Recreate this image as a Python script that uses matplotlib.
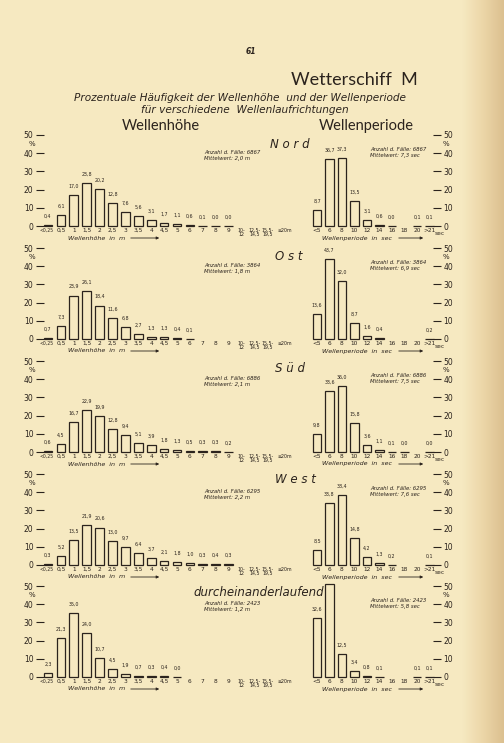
import numpy as np
import matplotlib
matplotlib.use("Agg")
import matplotlib.pyplot as plt
from matplotlib.transforms import blended_transform_factory, ScaledTranslation
from matplotlib.colors import LinearSegmentedColormap

W, H = 504, 743
nan = np.nan

# ---------------- data ----------------
height_classes = ["<0,25", "0,5", "1", "1,5", "2", "2,5", "3", "3,5", "4", "4,5",
                  "5", "6", "7", "8", "9", "10-\n12", "12,5-\n14,5", "15,5-\n19,5", "≥20m"]
period_classes = ["<5", "6", "8", "10", "12", "14", "16", "18", "20", ">21"]

nord_height = [0.4, 6.1, 17.0, 23.8, 20.2, 12.8, 7.6, 5.6, 3.1, 1.7, 1.1, 0.6, 0.1, 0.0, 0.0, nan, nan, nan, nan]
ost_height = [0.7, 7.3, 23.9, 26.1, 18.4, 11.6, 6.8, 2.7, 1.3, 1.3, 0.4, 0.1, nan, nan, nan, nan, nan, nan, nan]
sued_height = [0.6, 4.5, 16.7, 22.9, 19.9, 12.8, 9.4, 5.1, 3.9, 1.8, 1.3, 0.5, 0.3, 0.3, 0.2, nan, nan, nan, nan]
west_height = [0.3, 5.2, 13.5, 21.9, 20.6, 13.0, 9.7, 6.4, 3.7, 2.1, 1.8, 1.0, 0.3, 0.4, 0.3, nan, nan, nan, nan]
durch_height = [2.3, 21.3, 35.0, 24.0, 10.7, 4.5, 1.9, 0.7, 0.3, 0.4, 0.0, nan, nan, nan, nan, nan, nan, nan, nan]

nord_period = [8.7, 36.7, 37.3, 13.5, 3.1, 0.6, 0.0, nan, 0.1, 0.1]
ost_period = [13.6, 43.7, 32.0, 8.7, 1.6, 0.4, nan, nan, nan, 0.2]
sued_period = [9.8, 33.6, 36.0, 15.8, 3.6, 1.1, 0.1, 0.0, nan, 0.0]
west_period = [8.5, 33.8, 38.4, 14.8, 4.2, 1.3, 0.2, nan, nan, 0.1]
durch_period = [32.6, 50.9, 12.5, 3.4, 0.8, 0.1, nan, nan, 0.1, 0.1]

directions = ["N o r d", "O s t", "S ü d", "W e s t", "durcheinanderlaufend"]
cases = [6867, 3864, 6886, 6295, 2423]
mean_height = ["2,0", "1,8", "2,1", "2,2", "1,2"]
mean_period = ["7,3", "6,9", "7,5", "7,6", "5,8"]

heights = [nord_height, ost_height, sued_height, west_height, durch_height]
periods = [nord_period, ost_period, sued_period, west_period, durch_period]

# ---------------- style ----------------
BG = "#f6e9c1"
INK = "#2b231d"
FONT = "DejaVu Sans"

fig = plt.figure(figsize=(W / 100, H / 100), dpi=100)
fig.patch.set_facecolor(BG)

# paper shading on right edge
sh = fig.add_axes([462 / W, 0, 42 / W, 1])
cmap = LinearSegmentedColormap.from_list("paper", [BG, "#ecd6a8", "#dcc090"])
sh.imshow(np.linspace(0, 1, 64)[None, :], aspect="auto", cmap=cmap, extent=(0, 1, 0, 1))
sh.set_axis_off()


def ftext(x, y, s, **kw):
    kw.setdefault("color", INK)
    kw.setdefault("family", FONT)
    return fig.text(x / W, 1 - y / H, s, **kw)


def fmt(v):
    return f"{v:.1f}".replace(".", ",")


ftext(251, 52, "61", fontsize=5.5, weight="bold", style="italic", ha="center", va="center")
ftext(354, 80, "Wetterschiff  M", fontsize=13, ha="center", va="center", family="Lato")
ftext(240, 98, "Prozentuale Häufigkeit der Wellenhöhe  und der Wellenperiode",
      fontsize=7.6, style="italic", ha="center", va="center")
ftext(245, 110, "für verschiedene  Wellenlaufrichtungen", fontsize=7.6, style="italic",
      ha="center", va="center")
ftext(161, 126, "Wellenhöhe", fontsize=10.5, ha="center", va="center", family="Lato")
ftext(366, 126, "Wellenperiode", fontsize=10.5, ha="center", va="center", family="Lato")

baselines = [226, 339, 452, 565, 677]
PXH = 91  # pixels for 50 %
dir_pos = [(270, 144), (275, 256), (275, 368), (275, 479), (193, 592)]

for i in range(5):
    base = baselines[i]
    # ---------- left: wave height ----------
    x0, x1 = 44, 300
    axL = fig.add_axes([x0 / W, 1 - base / H, (x1 - x0) / W, PXH / H])
    axL.set_facecolor("none")
    axL.set_xlim((x0 - 48) / 12.9, (x1 - 48) / 12.9)
    axL.set_ylim(0, 50)
    xs = np.arange(len(height_classes))
    vals = np.array(heights[i], dtype=float)
    m = ~np.isnan(vals)
    axL.bar(xs[m], vals[m], width=0.68, facecolor="none", edgecolor=INK, linewidth=0.9, clip_on=False)
    for x, v in zip(xs[m], vals[m]):
        axL.annotate(fmt(v), (x, v), xytext=(0, 4.5), textcoords="offset points",
                     ha="center", va="bottom", fontsize=3.4, color=INK, family=FONT)
    axL.set_yticks([0, 10, 20, 30, 40, 50])
    axL.set_xticks(xs)
    axL.set_xticklabels(height_classes, family=FONT)
    axL.tick_params(axis="y", direction="out", length=6, width=0.8, labelsize=5.5,
                    pad=1.5, colors=INK)
    axL.tick_params(axis="x", length=0, labelsize=4.2, pad=1.2, colors=INK)
    xl = axL.get_xticklabels()
    for k, lbl in enumerate(xl):
        lbl.set_linespacing(0.75)
        if k == 0:
            lbl.set_fontsize(3.3)
        if k >= 15:
            lbl.set_fontsize(3.4)
    xl[-1].set_transform(xl[-1].get_transform() + ScaledTranslation(3 / 72, 0, fig.dpi_scale_trans))
    xl[0].set_transform(xl[0].get_transform() + ScaledTranslation(-1 / 72, 0, fig.dpi_scale_trans))
    for s in axL.spines.values():
        s.set_visible(False)
    tr = blended_transform_factory(axL.transAxes, axL.transData)
    axL.text(-0.062, 45.3, "%", transform=tr, fontsize=5, color=INK, ha="left", va="center", family=FONT)
    axL.text((204 - 48) / 12.9, 40.2, f"Anzahl d. Fälle: {cases[i]}", fontsize=3.9, style="italic",
             color=INK, ha="left", va="center", family=FONT)
    axL.text((204 - 48) / 12.9, 37.2, f"Mittelwert: {mean_height[i]} m", fontsize=3.9, style="italic",
             color=INK, ha="left", va="center", family=FONT)
    ftext(68, base + 12, "Wellenhöhe  in  m", fontsize=4.6, style="italic", ha="left", va="center")
    fig.add_artist(matplotlib.patches.FancyArrowPatch(
        (128 / W, 1 - (base + 12) / H), (162 / W, 1 - (base + 12) / H),
        transform=fig.transFigure, arrowstyle="-|>", mutation_scale=4, color=INK, linewidth=0.6))

    # ---------- right: wave period ----------
    r0, r1 = 300, 433
    axR = fig.add_axes([r0 / W, 1 - base / H, (r1 - r0) / W, PXH / H])
    axR.set_facecolor("none")
    axR.set_xlim((r0 - 317) / 12.5, (r1 - 317) / 12.5)
    axR.set_ylim(0, 50)
    xp = np.arange(len(period_classes))
    pv = np.array(periods[i], dtype=float)
    mp = ~np.isnan(pv)
    axR.bar(xp[mp], pv[mp], width=0.66, facecolor="none", edgecolor=INK, linewidth=0.9, clip_on=False)
    for x, v in zip(xp[mp], pv[mp]):
        if v > 47:
            axR.annotate(fmt(v), (x, v), xytext=(0, -2), textcoords="offset points",
                         ha="center", va="top", fontsize=3.4, color=INK, family=FONT)
        else:
            axR.annotate(fmt(v), (x, v), xytext=(0, 4.5), textcoords="offset points",
                         ha="center", va="bottom", fontsize=3.4, color=INK, family=FONT)
    axR.yaxis.tick_right()
    axR.set_yticks([0, 10, 20, 30, 40, 50])
    axR.set_xticks(xp)
    axR.set_xticklabels(period_classes, family=FONT)
    axR.tick_params(axis="y", direction="out", length=6, width=0.8, labelsize=5.5,
                    pad=1.5, colors=INK)
    axR.tick_params(axis="x", length=0, labelsize=4.2, pad=1.2, colors=INK)
    for s in axR.spines.values():
        s.set_visible(False)
    trR = blended_transform_factory(axR.transAxes, axR.transData)
    axR.text(1.075, 45.3, "%", transform=trR, fontsize=5, color=INK, ha="left", va="center", family=FONT)
    axR.text(9.45, -2.6, "sec", fontsize=4.2, color=INK, ha="left", va="top", family=FONT, clip_on=False)
    axR.text((370 - 317) / 12.5, 41.8, f"Anzahl d. Fälle: {cases[i]}", fontsize=3.9, style="italic",
             color=INK, ha="left", va="center", family=FONT)
    axR.text((370 - 317) / 12.5, 38.8, f"Mittelwert: {mean_period[i]} sec", fontsize=3.9, style="italic",
             color=INK, ha="left", va="center", family=FONT)
    ftext(322, base + 12, "Wellenperiode  in  sec", fontsize=4.6, style="italic", ha="left", va="center")
    fig.add_artist(matplotlib.patches.FancyArrowPatch(
        (396 / W, 1 - (base + 12) / H), (426 / W, 1 - (base + 12) / H),
        transform=fig.transFigure, arrowstyle="-|>", mutation_scale=4, color=INK, linewidth=0.6))

    dx, dy = dir_pos[i]
    ftext(dx, dy, directions[i], fontsize=8.5, style="italic", ha="left", va="center")

fig.savefig("out.png", dpi=100, facecolor=BG)
